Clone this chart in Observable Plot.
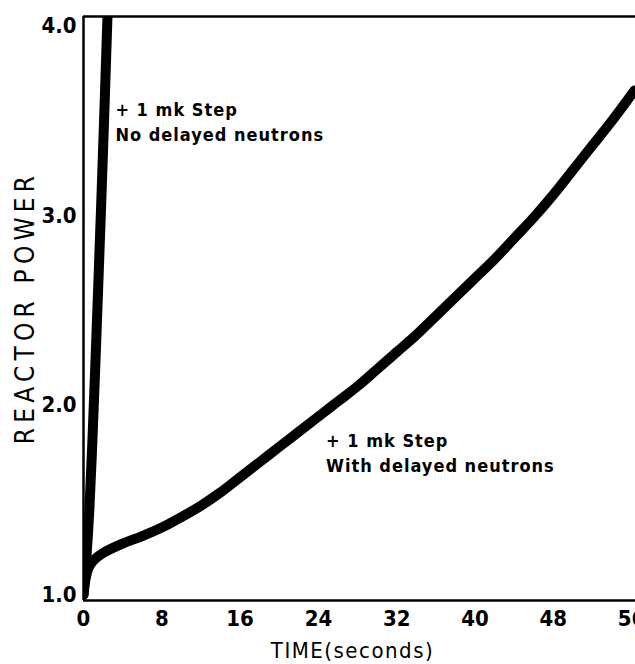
<!DOCTYPE html>
<html>
<head>
<meta charset="utf-8">
<script src="https://cdn.jsdelivr.net/npm/d3@7"></script>
<script src="https://cdn.jsdelivr.net/npm/@observablehq/plot@0.6"></script>
<style>
  html, body { margin: 0; padding: 0; background: #fff; overflow: hidden; }
  #chart svg { display: block; overflow: hidden; }
  .ann text { letter-spacing: 1px; }
  .ttlx text { letter-spacing: 1.5px; }
  .ttly text { letter-spacing: 5.2px; }
</style>
</head>
<body>
<div id="chart"></div>
<script>
// Time axis (seconds) and reactor power readings
const tFast    = [0, 0.3, 0.6, 0.9, 1.2, 1.5, 1.8, 2.1, 2.45];
const pFast    = [1.00, 1.20, 1.45, 1.80, 2.20, 2.62, 3.05, 3.50, 4.05];

const tDelayed = [0, 0.2, 0.5, 1.0, 2.0, 4.0, 6.0, 8.0, 10, 12, 14, 16, 18, 20, 22, 24, 26, 28, 30, 32, 34, 36, 38, 40, 42, 44, 46, 48, 50, 52, 54, 56.3];
const pDelayed = [1.00, 1.08, 1.14, 1.18, 1.22, 1.27, 1.31, 1.355, 1.41, 1.47, 1.54, 1.62, 1.70, 1.78, 1.86, 1.94, 2.02, 2.10, 2.19, 2.28, 2.37, 2.47, 2.57, 2.67, 2.77, 2.88, 2.99, 3.11, 3.24, 3.37, 3.50, 3.66];

const xTicks = [0, 8, 16, 24, 32, 40, 48, 56];
const yTicks = [1, 2, 3, 4];

const annTexts = ["+ 1 mk Step\nNo delayed neutrons", "+ 1 mk Step\nWith delayed neutrons"];
const annT = [3.26, 24.78];
const annP = [3.618, 1.876];

const xTitle = "TIME(seconds)";
const yTitle = "REACTOR POWER";

const fast = tFast.map((t, i) => ({t, p: pFast[i]}));
const delayed = tDelayed.map((t, i) => ({t, p: pDelayed[i]}));
const ann = annTexts.map((text, i) => ({text, t: annT[i], p: annP[i]}));

const FONT = '"Liberation Sans Narrow", "DejaVu Sans Condensed", "Arial Narrow", "Roboto Condensed", sans-serif';
const X_DOMAIN = [0, 56.4];
const Y_DOMAIN = [0.97, 4.05];

const chart = Plot.plot({
  width: 635,
  height: 664,
  marginTop: 16,
  marginBottom: 64,
  marginLeft: 83,
  marginRight: 0,
  style: {fontFamily: FONT, background: "#fff", color: "#000"},
  x: {domain: X_DOMAIN},
  y: {domain: Y_DOMAIN},
  marks: [
    Plot.line(delayed, {x: "t", y: "p", stroke: "#000", strokeWidth: 10, curve: "catmull-rom", strokeLinejoin: "round", strokeLinecap: "round", clip: true}),
    Plot.line(fast, {x: "t", y: "p", stroke: "#000", strokeWidth: 10, curve: "catmull-rom", strokeLinejoin: "round", strokeLinecap: "round", clip: true}),
    Plot.ruleX([X_DOMAIN[0]], {stroke: "#000", strokeWidth: 2.5}),
    Plot.ruleY(Y_DOMAIN, {stroke: "#000", strokeWidth: 2.5}),
    Plot.axisX({ticks: xTicks, tickSize: 0, tickPadding: 10, fontSize: 22, fontWeight: "bold", label: null}),
    Plot.axisY({ticks: yTicks, tickFormat: d3.format(".1f"), tickSize: 0, tickPadding: 7, fontSize: 22, fontWeight: "bold", label: null}),
    Plot.text(ann, {x: "t", y: "p", text: "text", textAnchor: "start", lineAnchor: "top", lineHeight: 1.4, fontSize: 18, fontWeight: "bold", fill: "#000", className: "ann"}),
    Plot.text([xTitle], {frameAnchor: "bottom", textAnchor: "middle", dy: 42, dx: -7, lineAnchor: "top", fontSize: 22, fill: "#000", className: "ttlx"}),
    Plot.text([yTitle], {frameAnchor: "left", textAnchor: "middle", rotate: -90, dx: -58, dy: -1, lineAnchor: "middle", fontSize: 26, fill: "#000", className: "ttly"})
  ]
});
document.getElementById("chart").appendChild(chart);
</script>
</body>
</html>
